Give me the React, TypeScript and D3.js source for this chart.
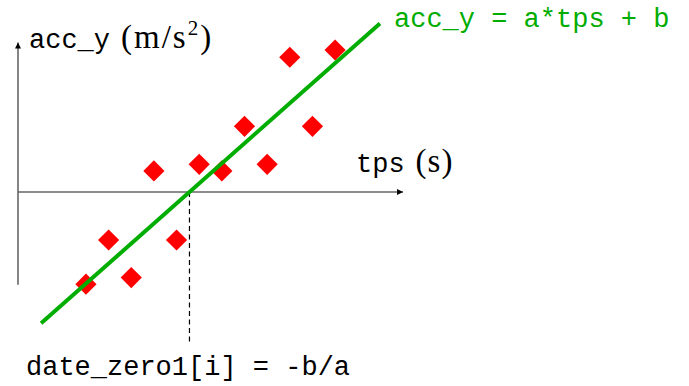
import * as d3 from "d3";

const tpsValues = [3, 4, 5, 6, 7, 8, 9, 10, 11, 12, 13, 14];
const accValues = [-4.07, -2.12, -3.78, 0.93, -2.12, 1.22, 0.93, 2.9, 1.22, 5.95, 2.9, 6.27];

// fitted line acc_y = a*tps + b
const slopeA = 0.885;
const interceptB = -6.7;
const lineRange = [1.02, 15.98];

const xAxisRange = [0, 17];
const yAxisRange = [-4.1, 6.6];
const dashBottom = -6.67;

const mono = "'Liberation Mono', 'DejaVu Sans Mono', monospace";
const serif = "'Liberation Serif', 'DejaVu Serif', serif";
const green = "#00ad00";

export default function App() {
  const width = 689;
  const height = 386;
  const unit = 22.65;
  const x = d3.scaleLinear().domain([0, 1]).range([18, 18 + unit]);
  const y = d3.scaleLinear().domain([0, 1]).range([192, 192 - unit]);

  const zero = -interceptB / slopeA;
  const fit = d3
    .line<number>()
    .x((t) => x(t))
    .y((t) => y(slopeA * t + interceptB));

  const side = 15;

  return (
    <svg
      width={width}
      height={height}
      style={{ position: "absolute", left: 0, top: 0, background: "#fff" }}
    >
      <defs>
        <marker id="arr" viewBox="0 0 10 10" refX="10" refY="5" markerWidth="7" markerHeight="6" orient="auto" markerUnits="userSpaceOnUse">
          <path d="M0,0 L10,5 L0,10 z" fill="#000" />
        </marker>
      </defs>

      {/* axes */}
      <line x1={x(xAxisRange[0])} x2={x(xAxisRange[1])} y1={y(0)} y2={y(0)} stroke="#666" strokeWidth={1.6} markerEnd="url(#arr)" />
      <line x1={x(0)} x2={x(0)} y1={y(yAxisRange[0])} y2={y(yAxisRange[1])} stroke="#666" strokeWidth={1.6} markerEnd="url(#arr)" />

      {/* dashed projection */}
      <line x1={x(zero)} x2={x(zero)} y1={y(0)} y2={y(dashBottom)} stroke="#000" strokeWidth={1.2} strokeDasharray="5,3.5" />

      {/* points */}
      {tpsValues.map((t, i) => (
        <rect
          key={i}
          x={-side / 2}
          y={-side / 2}
          width={side}
          height={side}
          fill="#ff0000"
          transform={`translate(${x(t)},${y(accValues[i])}) rotate(45)`}
        />
      ))}

      {/* fitted line */}
      <path d={fit(lineRange) ?? ""} fill="none" stroke={green} strokeWidth={4} />

      {/* labels */}
      <text x={29} y={48} fontSize={27}>
        <tspan fontFamily={mono}>acc_y</tspan>
        <tspan fontFamily={serif} fontSize={33} dx={11} letterSpacing={2}>(m/s</tspan>
        <tspan fontFamily={serif} fontSize={21} dy={-13}>2</tspan>
        <tspan fontFamily={serif} fontSize={33} dx={2} dy={13}>)</tspan>
      </text>
      <text x={356} y={172} fontSize={27}>
        <tspan fontFamily={mono}>tps</tspan>
        <tspan fontFamily={serif} fontSize={33} dx={11} letterSpacing={1}>(s)</tspan>
      </text>
      <text x={394} y={27} fontSize={27} fontFamily={mono} fill={green}>
        acc_y = a*tps + b
      </text>
      <text x={26} y={375} fontSize={27} fontFamily={mono} fill="#000">
        date_zero1[i] = -b/a
      </text>
    </svg>
  );
}
